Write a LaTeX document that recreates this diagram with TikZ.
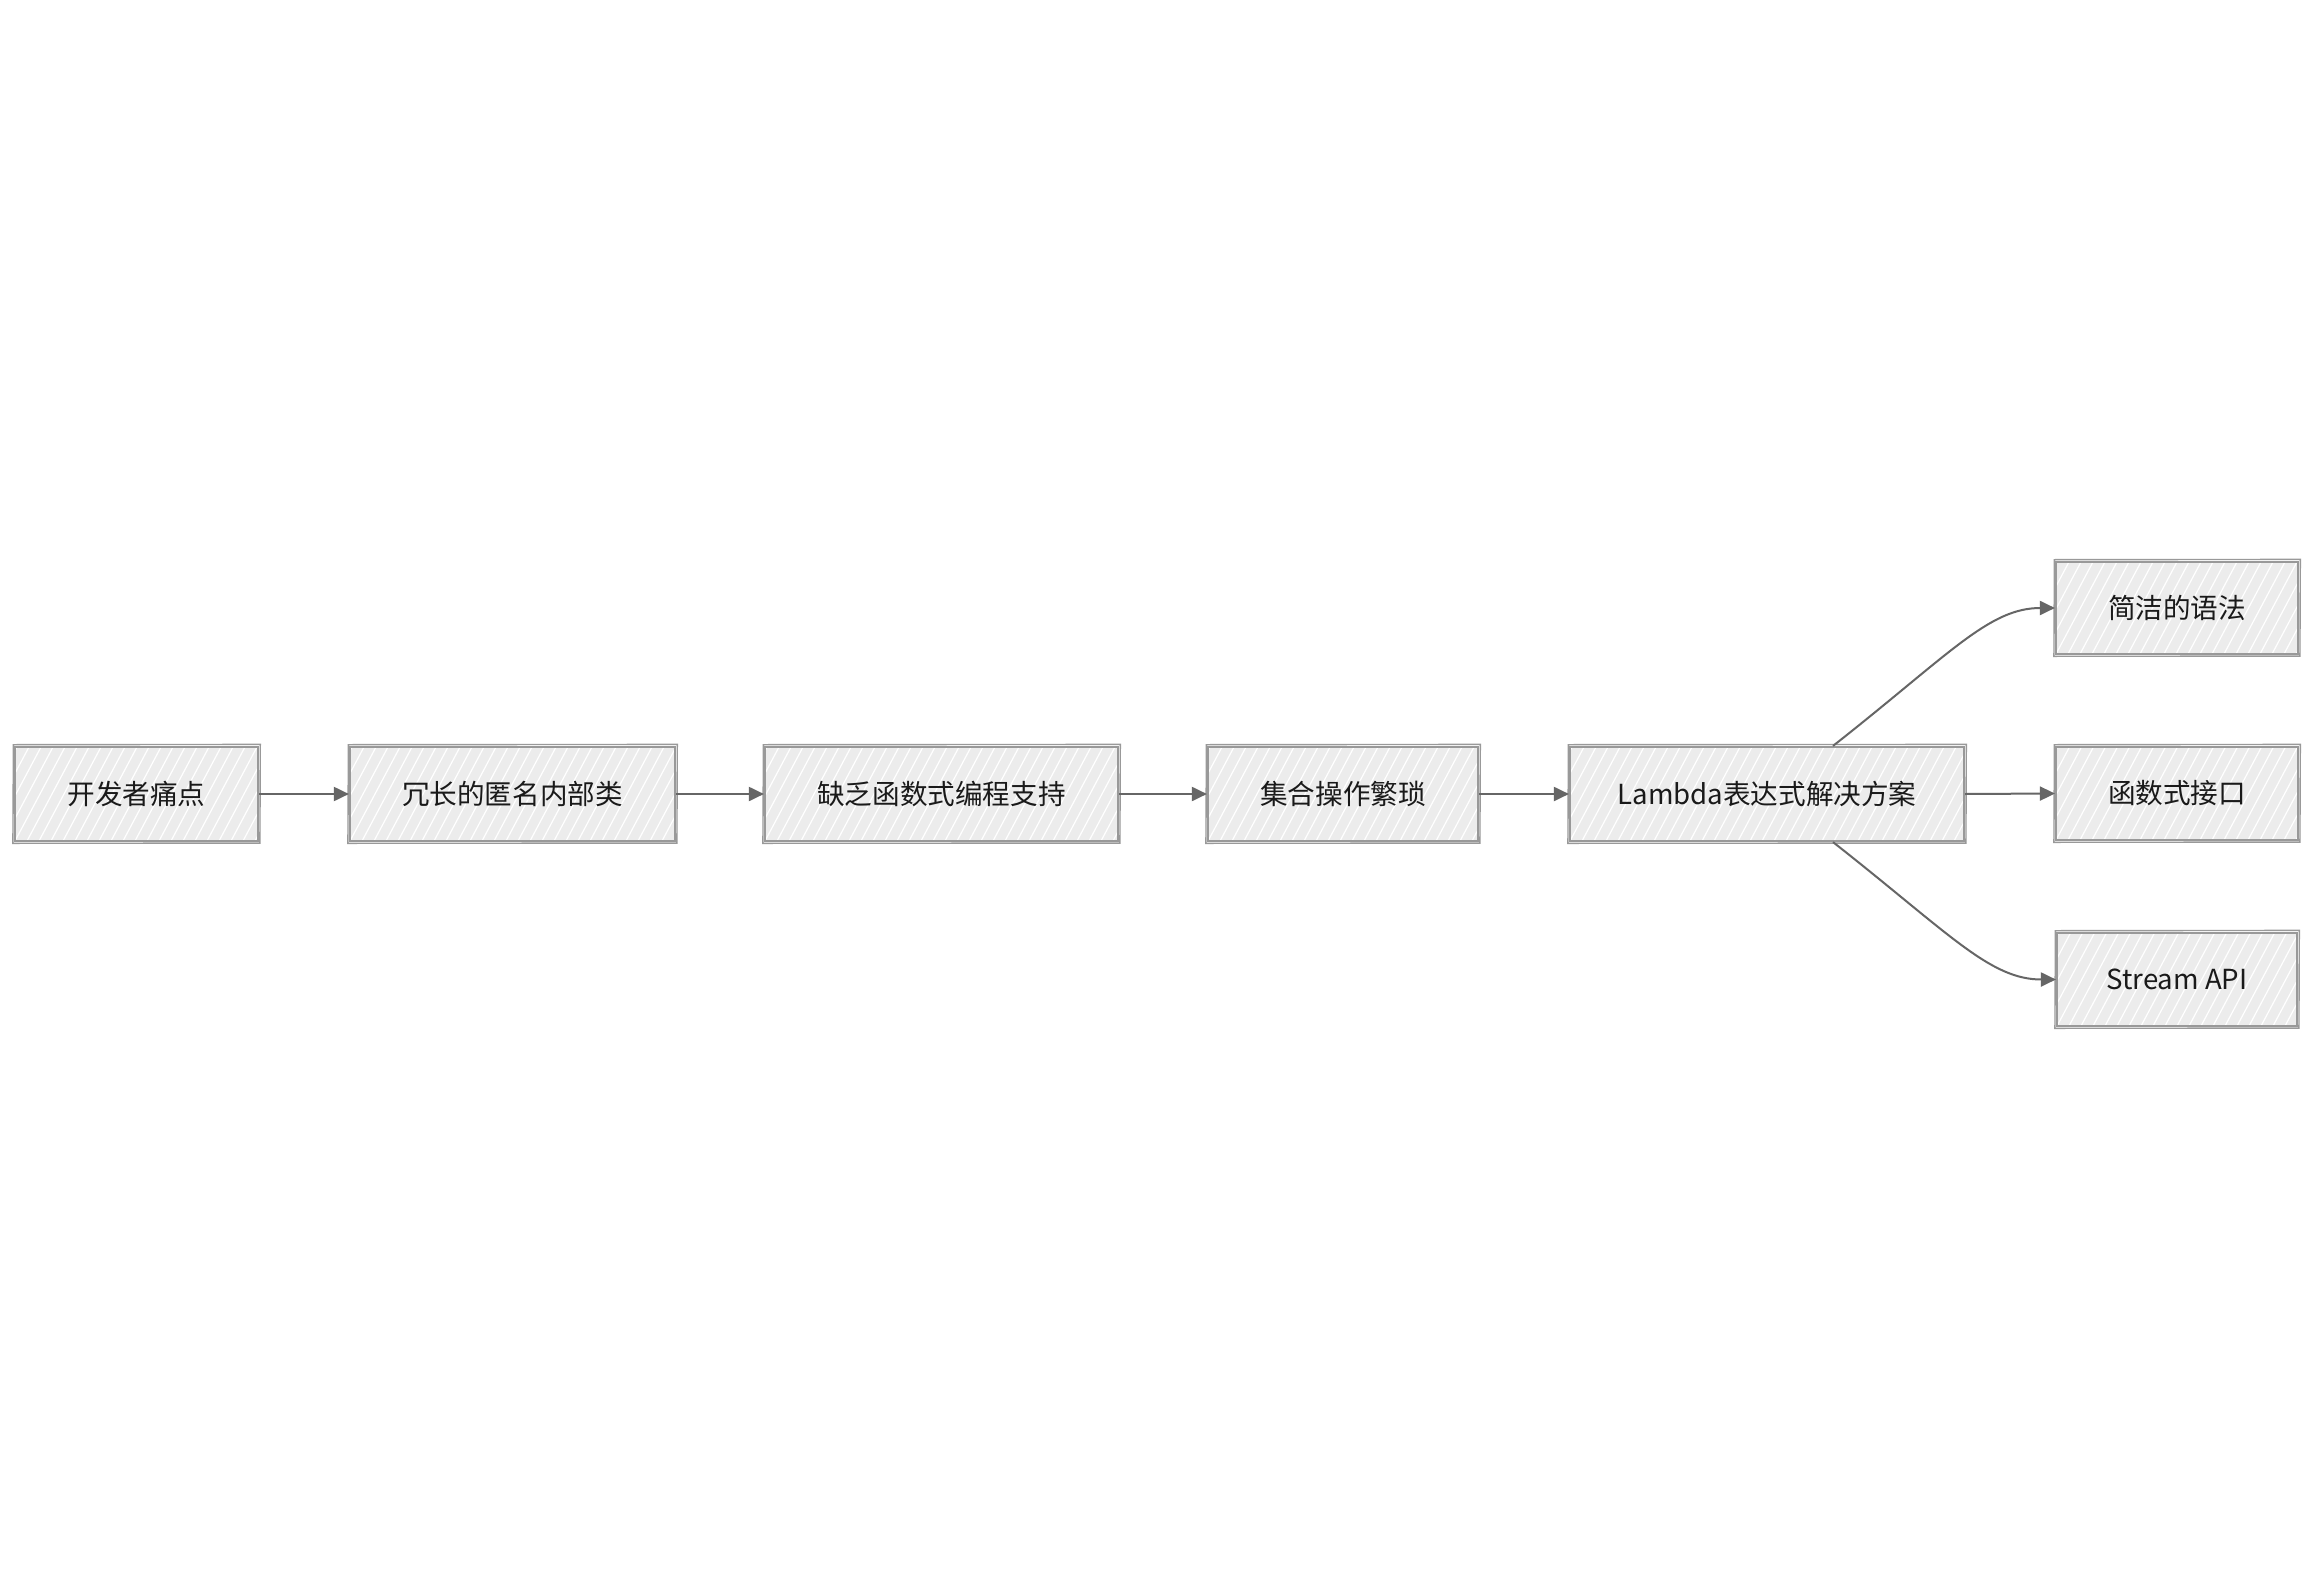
\documentclass[tikz,border=0pt]{standalone}
\usepackage{fontspec}
\setmainfont{Noto Sans CJK SC}
\usetikzlibrary{arrows.meta}
\definecolor{boxfill}{HTML}{ECECEC}
\definecolor{boxline}{HTML}{999999}
\definecolor{arrowc}{HTML}{666666}
\definecolor{textc}{HTML}{1A1A1A}
\begin{document}
\begin{tikzpicture}[x=0.5pt,y=-0.5pt]
\useasboundingbox[fill=white] (0,0) rectangle (2316,1588);
\tikzset{
  hatch/.style={path picture={
    \foreach \k in {-10,...,38}{
      \draw[white,line width=0.6pt] ([xshift=\k*6pt]path picture bounding box.south west) -- ++(62:60pt);
    }}},
  box/.style={draw=boxline, line width=1.1pt, fill=boxfill, hatch, inner sep=0pt,
    minimum height=47pt, text=textc, font=\fontsize{13.8pt}{16pt}\selectfont},
  sketch/.style={draw=boxline, line width=0.7pt},
  arr/.style={draw=arrowc, line width=1pt, -{Triangle[length=7.5pt,width=7pt]}}
}
\node[box, minimum width=121.5pt] (b1) at (136.5,794) {开发者痛点};
\node[box, minimum width=162.5pt] (b2) at (512.5,794) {冗长的匿名内部类};
\node[box, minimum width=176.5pt] (b3) at (941.5,794) {缺乏函数式编程支持};
\node[box, minimum width=135pt] (b4) at (1343,794) {集合操作繁琐};
\node[box, minimum width=197pt] (b5) at (1767,794) {Lambda表达式解决方案};
\node[box, minimum width=121pt, minimum height=46pt] (b6) at (2177,608) {简洁的语法};
\node[box, minimum width=121pt, minimum height=46.5pt] (b7) at (2177,793.5) {函数式接口};
\node[box, minimum width=120pt, minimum height=46.5pt] (b8) at (2177,979.5) {Stream API};

\foreach \n in {b1,b2,b3,b4,b5,b6,b7,b8}{
  \draw[sketch] ([shift={(-0.5,-1.2)}]\n.north west) -- ([shift={(1.2,-1.5)}]\n.north east)
     -- ([shift={(0.8,1)}]\n.south east) -- ([shift={(-1,1.2)}]\n.south west) -- cycle;
}

\draw[arr] (b1) -- (b2);
\draw[arr] (b2) -- (b3);
\draw[arr] (b3) -- (b4);
\draw[arr] (b4) -- (b5);
\draw[arr] (b5.east) -- (b7.west);
\coordinate (b5t) at ([xshift=33pt]b5.north);
\coordinate (b5b) at ([xshift=33pt]b5.south);
\draw[arr] (b5t) .. controls +(117,-92) and +(-66,0) .. (b6.west);
\draw[arr] (b5b) .. controls +(117,92) and +(-66,0) .. (b8.west);
\end{tikzpicture}
\end{document}
